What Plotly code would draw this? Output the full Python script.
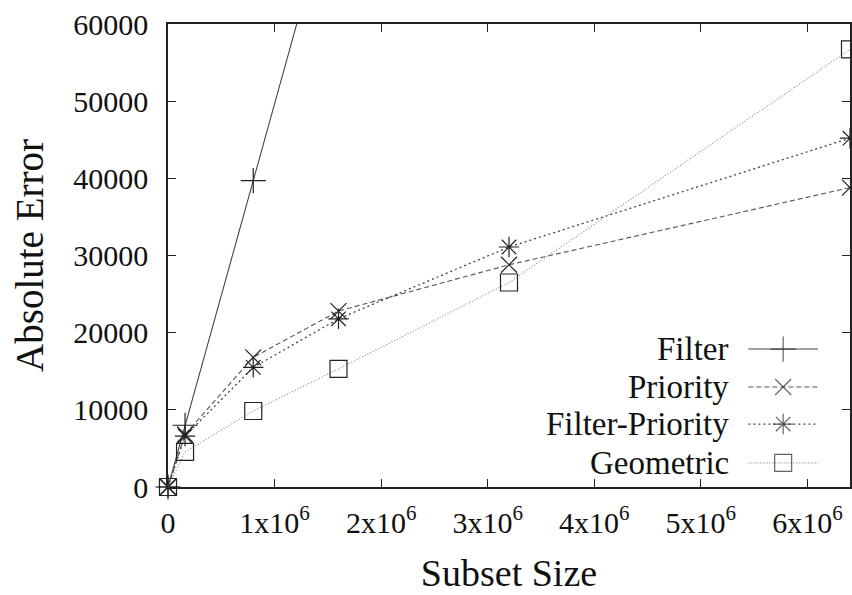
import plotly.graph_objects as go

subset_size = [0, 160000, 800000, 1600000, 3200000, 6400000]
filter_err = [0, 8000, 39700, 79500, 159000, 318000]
priority_err = [0, 6800, 16800, 22800, 28800, 38800]
filter_priority_err = [0, 6600, 15500, 21800, 31100, 45200]
geometric_err = [0, 4550, 9850, 15300, 26500, 56700]

series_names = ["Filter", "Priority", "Filter-Priority", "Geometric"]
x_tickvals = [0, 1e6, 2e6, 3e6, 4e6, 5e6, 6e6]
x_ticktext = ["0", "1x10<sup>6</sup>", "2x10<sup>6</sup>", "3x10<sup>6</sup>",
              "4x10<sup>6</sup>", "5x10<sup>6</sup>", "6x10<sup>6</sup>"]
y_tickvals = [0, 10000, 20000, 30000, 40000, 50000, 60000]
y_ticktext = ["0", "10000", "20000", "30000", "40000", "50000", "60000"]

FONT = "Liberation Serif"

styles = {
    "Filter": dict(dash="solid", color="#444444", symbol="cross-thin-open", size=18, width=1.1),
    "Priority": dict(dash="5px,3px", color="#555555", symbol="x-thin-open", size=16, width=1.1),
    "Filter-Priority": dict(dash="2px,3px", color="#444444", symbol="asterisk-open", size=17, width=1.3),
    "Geometric": dict(dash="1px,2px", color="#888888", symbol="square-open", size=17, width=1.1),
}
data = {
    "Filter": filter_err,
    "Priority": priority_err,
    "Filter-Priority": filter_priority_err,
    "Geometric": geometric_err,
}

fig = go.Figure()
for name in series_names:
    s = styles[name]
    fig.add_trace(go.Scatter(
        x=subset_size, y=data[name], mode="lines+markers", name=name,
        line=dict(color=s["color"], dash=s["dash"], width=s["width"]),
        marker=dict(symbol=s["symbol"], size=s["size"], color="#222222",
                    line=dict(color="#222222", width=1.2)),
        showlegend=False, cliponaxis=False,
    ))

# custom legend (labels right-aligned, sample on the right)
leg_y = [0.298, 0.216, 0.136, 0.052]
for name, yy in zip(series_names, leg_y):
    s = styles[name]
    fig.add_trace(go.Scatter(
        x=[0.851, 0.902, 0.953], y=[yy, yy, yy], xaxis="x2", yaxis="y2",
        mode="lines+markers", showlegend=False, hoverinfo="skip",
        line=dict(color=s["color"], dash=s["dash"], width=s["width"]),
        marker=dict(symbol=s["symbol"], size=[0, s["size"], 0], color="#222222",
                    line=dict(color="#222222", width=1.2)),
    ))
    fig.add_annotation(x=0.826, y=yy, xref="paper", yref="paper", text=name,
                       showarrow=False, xanchor="right", yanchor="middle",
                       font=dict(family=FONT, size=33, color="#111111"))

fig.update_layout(
    width=852, height=595,
    margin=dict(l=168, r=0, t=24, b=108),
    paper_bgcolor="white", plot_bgcolor="white",
    font=dict(family=FONT, color="#111111"),
    xaxis=dict(range=[0, 6.4e6], tickvals=x_tickvals, ticktext=x_ticktext,
               ticks="inside", ticklen=8, tickcolor="#222", mirror="ticks",
               showline=True, linecolor="#222", linewidth=1.5, showgrid=False,
               zeroline=False, tickfont=dict(size=30, family=FONT, color="#111"),
               ticklabelstandoff=8,
               title=dict(text="Subset Size", font=dict(size=38, family=FONT, color="#111"),
                          standoff=22)),
    yaxis=dict(range=[0, 60000], tickvals=y_tickvals, ticktext=y_ticktext,
               ticks="inside", ticklen=8,
               tickcolor="#222", mirror="ticks", showline=True, linecolor="#222",
               linewidth=1.5, showgrid=False, zeroline=False,
               tickfont=dict(size=30, family=FONT, color="#111"),
               ticklabelstandoff=12,
               title=dict(text="Absolute Error", font=dict(size=39, family=FONT, color="#111"),
                          standoff=18)),
    xaxis2=dict(range=[0, 1], overlaying="x", visible=False),
    yaxis2=dict(range=[0, 1], overlaying="y", visible=False),
)

fig.write_html("out.html")
